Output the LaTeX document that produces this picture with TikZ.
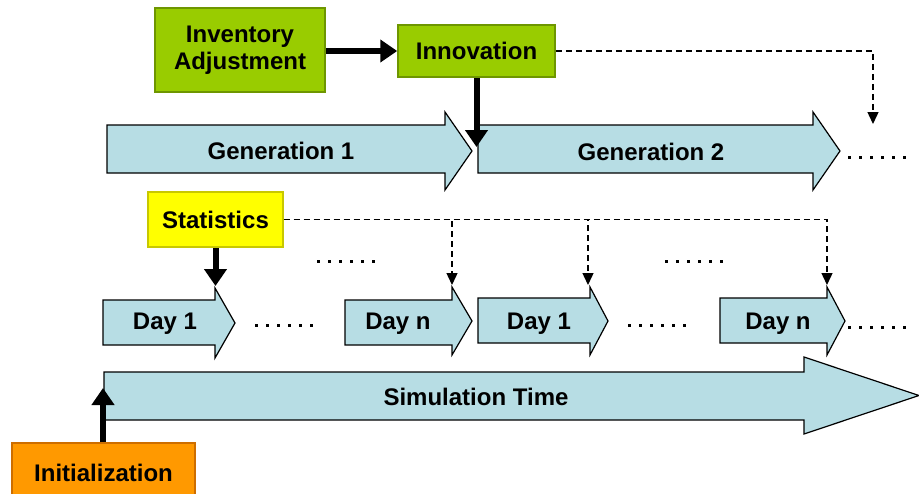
\documentclass[tikz,border=0pt]{standalone}
\usepackage{fontspec}
\setmainfont{Liberation Sans}
\usetikzlibrary{arrows.meta}
\definecolor{gfill}{RGB}{153,204,0}
\definecolor{gline}{RGB}{110,150,0}
\definecolor{yfill}{RGB}{255,255,0}
\definecolor{yline}{RGB}{200,200,0}
\definecolor{ofill}{RGB}{255,153,0}
\definecolor{oline}{RGB}{205,110,0}
\definecolor{lblue}{RGB}{183,221,228}
\newcommand{\barrow}[7]{\draw[blockarr] (#1,#4) -- (#2,#4) -- (#2,#6) -- (#3,{(#6+#7)/2}) -- (#2,#7) -- (#2,#5) -- (#1,#5) -- cycle;}
\begin{document}
\begin{tikzpicture}[x=1pt,y=-1pt,
  txt/.style={font=\fontsize{24}{27}\selectfont\bfseries, align=center},
  procbox/.style={txt, draw=#1, line width=1.5pt, inner sep=0pt},
  blockarr/.style={fill=lblue, draw=black, line width=1.2pt, line join=miter},
  lbl/.style={txt, inner sep=0pt},
  bigarr/.style={line width=6pt, -{Triangle[width=22pt,length=17pt]}},
  dasharr/.style={line width=1.4pt, dash pattern=on 6pt off 4pt, -{Triangle[width=11pt,length=12pt]}},
  dotline/.style={line width=3pt, dash pattern=on 3pt off 8pt}]
\useasboundingbox (0,0) rectangle (919,493);
\clip (0,0) rectangle (919,493);
% block arrows
\barrow{107}{445}{472}{125}{173}{112}{190}
\barrow{478}{813}{840}{125}{173}{112}{190}
\barrow{103}{215}{235}{300}{345}{288}{358}
\barrow{345}{452}{472}{300}{345}{287}{355}
\barrow{478}{590}{608}{298}{343}{287}{355}
\barrow{720}{827}{845}{298}{343}{287}{355}
\barrow{104}{804}{919}{372}{420}{357}{434}
% labels
\node[lbl] (g1) at (281,151) {Generation 1};
\node[lbl] (g2) at (651,152) {Generation 2};
\node[lbl] (d1a) at (165,324) {Day 1};
\node[lbl] (dna) at (398,324) {Day n};
\node[lbl] (d1b) at (539,324) {Day 1};
\node[lbl] (dnb) at (778,324) {Day n};
\node[lbl] (sim) at (476,397) {Simulation Time};
% boxes
\node[procbox=gline, fill=gfill, minimum width=170pt, minimum height=84pt] (inv) at (240,50) {Inventory\\Adjustment};
\node[procbox=gline, fill=gfill, minimum width=157pt, minimum height=52pt] (innov) at (476.5,51) {Innovation};
\node[procbox=yline, fill=yfill, minimum width=135pt, minimum height=55pt] (stats) at (215.5,219.5) {Statistics};
\node[procbox=oline, fill=ofill, minimum width=183pt, minimum height=60pt] (init) at (103.5,473) {Initialization};
% coordinates
\coordinate (gen2in) at (477,147);
\coordinate (gennext) at (873,124);
\coordinate (tA) at (215,286);
\coordinate (tB) at (452,285);
\coordinate (tC) at (588,285);
\coordinate (tD) at (827,285);
\coordinate (simin) at (103,388);
% connectors
\draw[bigarr] (inv.east |- innov.west) -- (innov.west);
\draw[bigarr] (innov.south) -- (innov.south |- gen2in);
\draw[dasharr] (innov.east) -| (gennext);
\draw[bigarr] (stats.south) -- (stats.south |- tA);
\draw[dasharr] (stats.east) -| (tB);
\draw[dasharr] (stats.east) -| (tC);
\draw[dasharr] (stats.east) -| (tD);
\draw[bigarr] (init.north -| simin) -- (simin);
% dotted continuations
\coordinate (o1) at (848,157); \coordinate (o1e) at (910,157);
\coordinate (o2) at (255,325); \coordinate (o2e) at (317,325);
\coordinate (o3) at (628,325); \coordinate (o3e) at (690,325);
\coordinate (o4) at (848,327); \coordinate (o4e) at (910,327);
\coordinate (o5) at (317,261); \coordinate (o5e) at (379,261);
\coordinate (o6) at (665,261); \coordinate (o6e) at (727,261);
\foreach \a/\b in {o1/o1e,o2/o2e,o3/o3e,o4/o4e,o5/o5e,o6/o6e}
  \draw[dotline] (\a) -- (\b);
\end{tikzpicture}
\end{document}
